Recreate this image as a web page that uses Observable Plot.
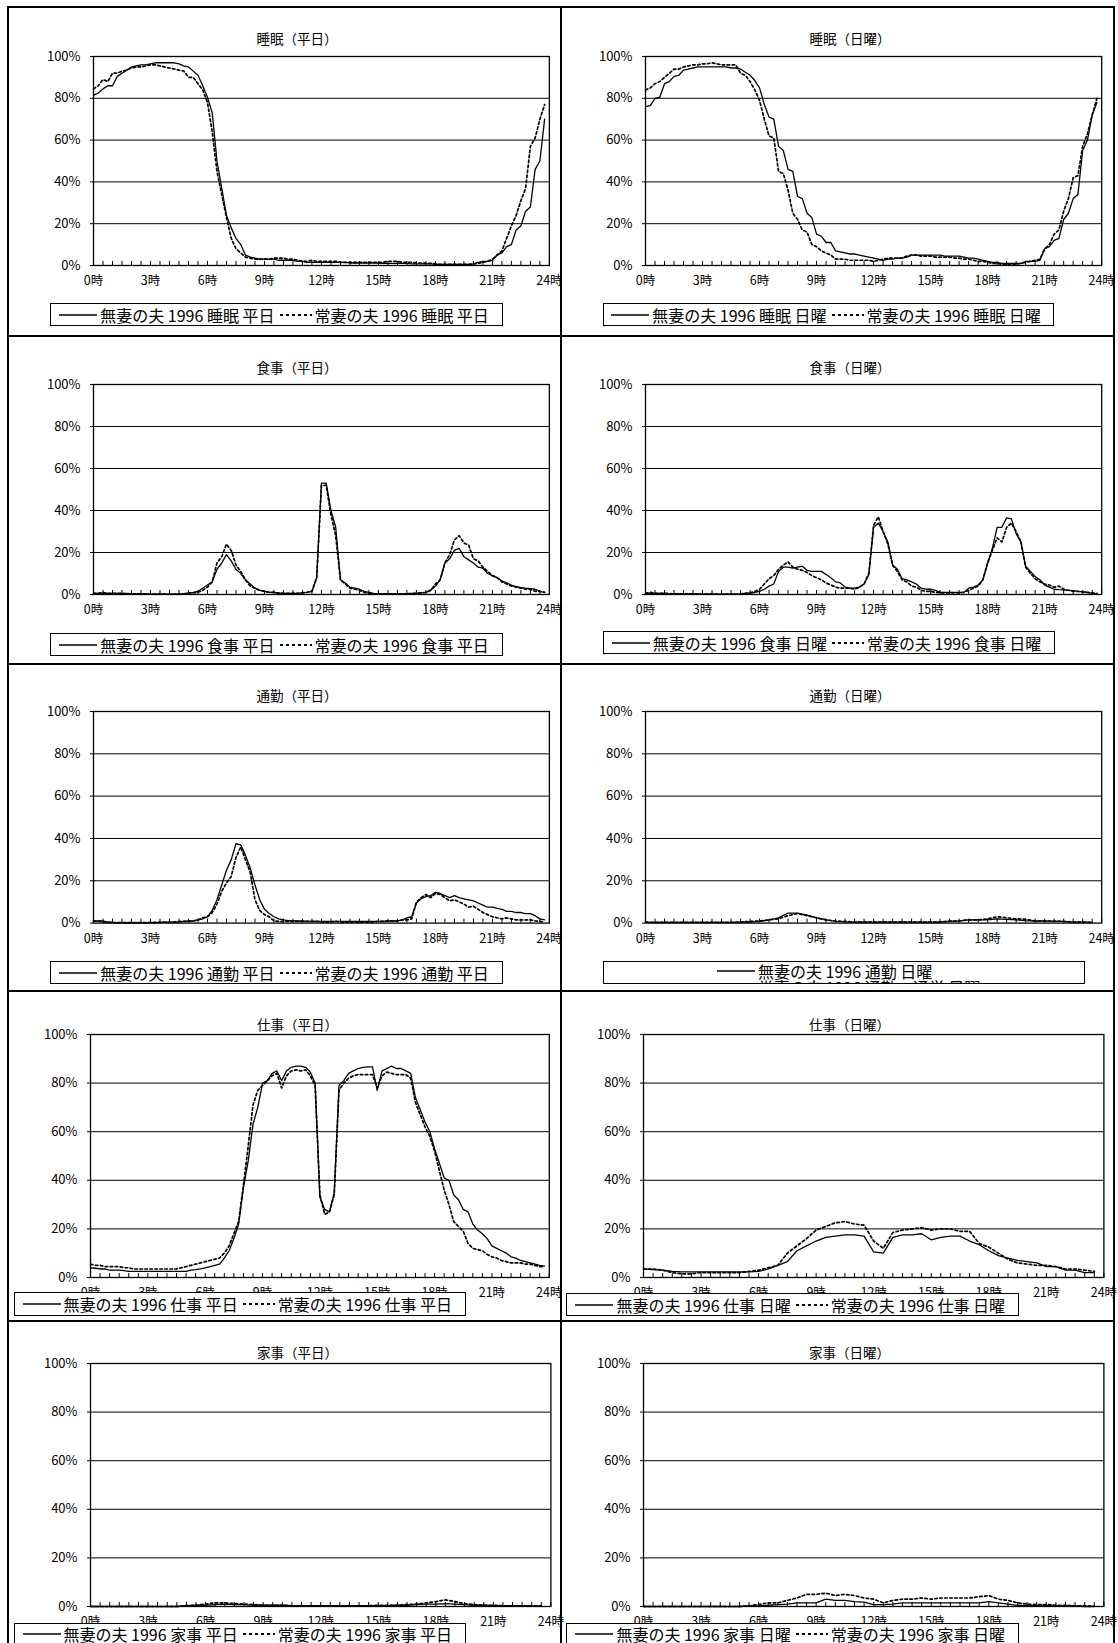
<!DOCTYPE html>
<html><head><meta charset="utf-8">
<script src="https://cdn.jsdelivr.net/npm/d3@7"></script>
<script src="https://cdn.jsdelivr.net/npm/@observablehq/plot@0.6"></script>
<style>
body{margin:0;background:#fff;}
#page{position:relative;width:1118px;height:1643px;overflow:hidden;background:#fff;font-family:"Noto Sans CJK JP","Noto Sans",sans-serif;color:#000;}
.title{position:absolute;font-size:13.5px;transform:translate(-50%,-50%);white-space:nowrap;line-height:1;}
.legend{position:absolute;border:1px solid #000;background:#fff;box-sizing:border-box;display:flex;align-items:center;justify-content:center;font-size:16px;white-space:nowrap;overflow:hidden;line-height:1;}
.legend svg{flex:none;}
.legend span{margin:0 5px 0 3px;}
.rule{position:absolute;background:#000;}
</style></head><body><div id="page"></div>
<script>
// ---- axis ticks / labels ----
const hourTicks = [0,3,6,9,12,15,18,21,24];
const pctTicks = [0,20,40,60,80,100];
const gridPct = [20,40,60,80];
const halfHourTicks = d3.range(0, 24.001, 0.5);

// ---- data: 15-minute steps (96 values) ----
const sleepWdNoWife = [81.5,82.5,84.5,86, 86,90.5,92,93.5, 95,95.5,96,96,
 96.5,97,97,97, 97,97,96.5,95.5, 95,93,91,86,
 80.5,73,50,37, 24,18,13,10, 5,4,3.5,3,
 3,3,3,2.5, 2.5,2.5,2.5,2, 2,1.5,1.5,1.5,
 1.5,1.5,1.5,1.5, 1.5,1.5,1.2,1.2, 1.2,1.2,1.2,1.2,
 1.2,1,1,1, 1,1,1,0.8, 0.8,0.8,0.8,0.8,
 0.5,0.5,0.5,0.5, 0.5,0.5,0.5,0.5, 0.8,1.5,2,2,
 2.5,5,6,9, 10,17,19,26, 28,46,50,70];
const sleepWdWife = [84.5,86,89,88, 92,92,93,93.5, 94.5,95,95,95.5,
 96,96,95.5,95, 94.5,94,93.5,93, 90,90,87,84,
 78,64,45,34, 23,13,8,6, 4,3.5,3,3,
 3,3,3.5,3.5, 3.5,3,3,2.5, 2,2,2.5,2,
 2,2,2,2, 1.5,1.5,1.5,1.5, 1.5,1.5,1.5,1.5,
 1.5,1.5,2,2, 2,1.5,1.5,1.5, 1.2,1.2,1,1,
 0.8,0.5,0.5,0.5, 0.5,0.5,0.5,0.5, 0.8,1,1.5,2,
 3,5,7,13, 19,24,31,37, 57,61,70,77];
const sleepSunNoWife = [76,76.5,80,80.5, 87,88,90.5,91, 93.5,94,94.5,95,
 95,95,95,95, 95,95,94.5,94.5, 94,92.5,91,88.5,
 85,77,71,70, 57,55,46,45, 33,32,25,23,
 15,14,11,11, 7,6.5,6,5.5, 5.5,5,4.5,4,
 3.5,3,2.5,3, 3,3.5,3.5,4, 5,5,5,5,
 5,5,5,4.5, 4.5,4.5,4.5,4, 3.5,3.5,3,2.5,
 2,1.5,1.5,1, 1,1,1,1, 2,2,2,2.5,
 8,9,12,13, 22,25,32,34, 55,60,72,78];
const sleepSunWife = [84,85,87,88, 90,92,94,94, 95,95.5,96,96,
 96.5,96.5,97,96.5, 96,96,96,96, 92,91,88,84,
 79,70,62,61, 45,44,36,25, 22,17,16,10,
 9,7,6,5, 3,3,3,2.5, 2.5,2.5,2.5,2.5,
 2,2.5,3,3.5, 3.5,3.5,3.5,4.5, 5,5,4.5,4.5,
 4.5,4,4,4, 4,3.5,3.5,3, 3,2.5,2,2,
 1.5,1,1,0.5, 0.5,0.5,0.5,1, 1.5,2,2.5,3,
 8,10,15,17, 26,32,42,43, 57,63,72,80];
const mealWdNoWife = [0.5,0.5,0.5,0.5, 0.5,0.5,0.5,0.5, 0.3,0.3,0.3,0.3,
 0.2,0.2,0.2,0.2, 0.2,0.2,0.3,0.3, 0.8,1,1.5,3,
 4.5,6,12,15, 19,16,12,10, 7,5,3,2,
 1.5,1,1,0.8, 0.5,0.5,0.5,0.5, 0.8,1,1.5,8,
 53,53,40,32, 7,5.5,3.5,3, 2.5,1.5,1,0.5,
 0.3,0.3,0.3,0.3, 0.3,0.3,0.3,0.5, 0.5,0.8,1,2,
 4,7,15,17, 21,22,18,16.5, 15,13,12.5,10,
 9,8,6.5,5.5, 4.5,3.8,3.3,3, 2.8,2.5,1.5,1];
const mealWdWife = [0.5,0.5,1,0.5, 0.5,0.5,0.5,0.3, 0.3,0.3,0.3,0.3,
 0.2,0.2,0.2,0.2, 0.2,0.2,0.2,0.3, 0.5,0.8,1,2,
 3.5,6,15,18, 24,21,14,11, 7,4,3,2,
 1.5,1,1,0.5, 0.5,0.5,0.5,0.5, 0.8,1,1.5,8,
 52,52,38,28, 7,5,3,2.5, 2,1,0.5,0.3,
 0.3,0.3,0.3,0.3, 0.3,0.3,0.3,0.5, 0.5,0.8,1,2,
 5,7,15,19, 26,28,24.5,23.5, 17,16,13,11,
 9,8,6,5, 4,3.5,3,2.5, 2.5,1.5,1.5,1];
const mealSunNoWife = [0.5,0.5,0.5,0.5, 0.5,0.3,0.3,0.3, 0.3,0.3,0.3,0.3,
 0.2,0.2,0.2,0.2, 0.2,0.2,0.2,0.2, 0.3,0.5,0.5,1,
 1.5,2.5,4,5, 11,13,13,12.5, 13,13.5,11.5,11,
 11,11,9.5,8, 6,5.5,3.5,3, 3,3.5,5,9.5,
 32,34,30,25, 14,12,7.5,7, 6,5,3,2.5,
 2.5,2,1,1, 1,1,1,1, 3,3.5,4.5,7,
 15,22,32,32, 36.5,36,29,25, 13.5,11,8.5,7,
 4.5,3.5,2.5,2.3, 2.2,2,1.8,1.5, 1.3,1,0.5,0.3];
const mealSunWife = [0.5,1,0.5,0.5, 0.5,0.5,0.3,0.3, 0.3,0.3,0.3,0.3,
 0.2,0.2,0.2,0.2, 0.2,0.2,0.2,0.2, 0.3,0.5,0.8,1.5,
 2.5,5,7.5,9, 12,14,15.5,13, 12,11.5,10.5,9,
 8,7,5.5,4.5, 3.5,3,3,3, 2.5,3.5,5,10,
 33,37,30,24, 14,11,7,6, 4,3.5,2,1.5,
 1.5,1,0.8,0.8, 0.8,0.8,0.8,1, 2,3,4,7,
 15,21,27,25, 32,34,30,25, 13,10,7.5,6,
 5,4.5,3.5,4, 2.5,2,1.5,1.5, 1.2,1,0.8,0.5];
const commuteWdNoWife = [1,1,1,0.5, 0.3,0.2,0.2,0.2, 0.2,0.2,0.2,0.2,
 0.2,0.2,0.3,0.3, 0.5,0.5,0.5,0.8, 1,1,1.5,2,
 3,6,11,18, 25,30,37.5,37, 32,26,18,11,
 6.5,4.5,3,2, 1.5,1.2,1.2,1, 1,0.8,0.8,0.8,
 0.8,0.8,0.8,0.8, 0.8,0.8,0.8,0.8, 0.8,0.8,0.8,0.8,
 0.8,0.8,1,1, 1,1.5,2.5,3, 9.5,11.5,12.5,13,
 14.5,14,13,12, 13,12,11.5,11, 10.5,9.5,8.5,7.5,
 7.5,7,6.5,5.5, 5.5,5,5,4.5, 4.5,3.5,2,1.5];
const commuteWdWife = [1,1,0.5,0.5, 0.2,0.2,0.2,0.2, 0.2,0.2,0.2,0.2,
 0.3,0.3,0.3,0.5, 0.5,0.5,0.8,0.8, 0.8,1,1.5,2.5,
 3,5,9,15, 19,22,31,36, 30,24,11,6,
 4,3,1,0.8, 0.8,0.8,0.8,0.8, 0.8,0.8,0.8,0.8,
 0.5,0.5,0.5,0.8, 0.5,0.5,0.5,0.5, 0.5,0.5,0.5,0.5,
 0.8,0.8,1,1, 1,1.5,1.5,2, 10,12,13.5,12,
 14,13.5,12,10.5, 11,10,9,7.5, 8,6.5,5,4,
 3,2.5,2,2.5, 2,1.5,1.5,1.5, 1.5,1,0.8,0.5];
const workWdNoWife = [4,3.8,3.5,3.5, 3,3,3,2.8, 2.5,2.5,2.5,2.5,
 2.5,2.5,2.5,2.5, 2.5,2.5,2.5,2.5, 2.5,3,3.2,3.5,
 4,4.5,5,5.5, 8,11,16,22, 37,48,63,70,
 80,81,84,85, 81,85,86.5,87, 87,86.5,84.5,80,
 33,28,27,35, 79,81,84,85, 86,86.5,86.7,86.7,
 77,85,86,87, 86,86,85,84, 74,69,64,60,
 53,47,41,40, 34,32,28,27, 22,19.5,18,16,
 13,12,11,10, 8.5,8,7,6.5, 6,5.5,5,4.7];
const workWdWife = [5.5,5,5,4.5, 4.5,4.5,4.5,4, 4,3.5,3.5,3.5,
 3.5,3.5,3.5,3.5, 3.5,3.5,3.5,4, 4.5,5,5.5,6,
 6.5,7,7.5,8, 10,13,18,23, 38,54,71,77,
 79,81,83,84, 78,83,85,85.5, 85,85.5,83,79,
 34,26,27,34, 77,80,82,83, 83.5,83.5,83.5,83.5,
 78,83,84.5,84, 83.5,83.5,83.5,82, 72,67,62,58,
 52,44,36,30, 23,21,19,14, 12,11.5,11,9.5,
 8.5,8,7,6.5, 6,6,6,5.5, 5.5,5,4.5,4.5];

// ---- data: 30-minute steps (48 values) ----
const commuteSunNoWife = [0.3,0.3,0.3,0.3,0.3,0.3,0.3,0.3,0.3,0.3,0.5,0.5,
 0.8,1.5,2.5,4.7,4.7,3.8,2.5,1.5,0.8,0.6,0.5,0.5,
 0.5,0.5,0.5,0.5,0.5,0.5,0.5,0.5,0.8,1,1.5,1.5,
 1.5,2,1.8,1.5,1.2,1,1,0.8,0.8,0.5,0.5,0.3];
const commuteSunWife = [0.5,0.3,0.3,0.3,0.3,0.3,0.3,0.3,0.3,0.3,0.5,0.8,
 1,1.5,2,3.5,4.5,3.5,2.5,1.5,1,0.8,0.5,0.5,
 0.5,0.5,0.5,0.5,0.5,0.5,0.5,0.5,1,1,1.5,1.5,
 2,3,2.5,2,1.8,1,1,1,0.8,0.5,0.5,0.3];
const workSunNoWife = [3.5,3.2,3,2.5,2.3,2.3,2.3,2.3,2.3,2.3,2.3,2.3,
 2.5,3.5,5,6.5,11,13,15,16.5,17,17.5,17.5,17,
 10.5,10,16.5,17.5,17.5,18,15.5,16.5,17,17,15,13.5,
 11,9,8,7,6.5,6,4.5,4.5,3,3,2,2];
const workSunWife = [3.5,3.5,3,2,1.5,1.5,2,2,2,2,2,2.5,
 3,4,5,10,13,16,19.5,21,22.5,23,22,21.5,
 15,12,18.5,19.5,20,20.5,19.5,20,20,19,19,14,
 12.5,10,7.5,6,5.5,5,5,4.5,3.5,3.5,3,2.5];
const houseWdNoWife = [0,0,0,0,0,0,0,0,0,0,0.3,0.5,
 0.5,0.8,1,0.8,0.8,0.5,0.5,0.5,0.5,0.3,0.3,0.3,
 0.3,0.3,0.3,0.3,0.3,0.3,0.3,0.3,0.5,0.5,0.8,1,
 1,1.2,1,0.8,0.5,0.5,0.3,0.3,0.3,0.3,0.2,0.2];
const houseWdWife = [0,0,0,0,0,0,0,0,0,0,0.3,0.5,
 1,1.5,1.5,1.2,1,0.8,0.5,0.5,0.5,0.3,0.3,0.3,
 0.3,0.3,0.3,0.3,0.3,0.3,0.5,0.5,0.5,0.8,1,1.5,
 2,2.7,2,1.2,0.8,0.5,0.5,0.3,0.3,0.3,0.2,0.2];
const houseSunNoWife = [0,0,0,0,0,0,0,0,0,0,0,0.2,
 0.3,0.5,0.8,1,1.5,1.5,1.5,3,2.5,2.5,2,1.8,
 0.8,0.8,1,1.5,1.5,1.5,1.5,1.5,1.5,1.5,1.5,1.5,
 2,1.5,1,0.5,0.3,0.3,0.3,0.3,0.2,0.2,0,0];
const houseSunWife = [0,0,0,0,0,0,0,0,0,0,0,0.3,
 0.8,1.5,1.5,2.5,3.5,5,5,5.5,4.5,5,4.5,3.5,
 3,1.5,2.5,3,3,3.5,3,3.5,3.5,3.5,3.5,4,
 4.5,3,2.5,1.5,1,0.8,0.8,0.5,0.5,0.3,0.2,0.2];

const FONT = '"Noto Sans CJK JP","Noto Sans",sans-serif';

const panels = [
 {title:"睡眠（平日）", a:sleepWdNoWife, b:sleepWdWife, step:0.25, tx:297, ty:39, L:92.5, R:548.4, T:56, B:265, lg:[50,303,453,23], la:"無妻の夫 1996 睡眠 平日", lb:"常妻の夫 1996 睡眠 平日"},
 {title:"睡眠（日曜）", a:sleepSunNoWife, b:sleepSunWife, step:0.25, tx:850, ty:39, L:645.4, R:1101.6, T:56, B:265, lg:[603,303,451,23], la:"無妻の夫 1996 睡眠 日曜", lb:"常妻の夫 1996 睡眠 日曜"},
 {title:"食事（平日）", a:mealWdNoWife, b:mealWdWife, step:0.25, tx:297, ty:368, L:92.5, R:548.4, T:384.3, B:594.3, lg:[50,633,453,23], la:"無妻の夫 1996 食事 平日", lb:"常妻の夫 1996 食事 平日"},
 {title:"食事（日曜）", a:mealSunNoWife, b:mealSunWife, step:0.25, tx:850, ty:368, L:645.4, R:1101.6, T:383.5, B:593.5, lg:[603,631,452,23], la:"無妻の夫 1996 食事 日曜", lb:"常妻の夫 1996 食事 日曜"},
 {title:"通勤（平日）", a:commuteWdNoWife, b:commuteWdWife, step:0.25, tx:297, ty:696, L:92.5, R:548.4, T:710.7, B:922.3, lg:[50,961,453,23], la:"無妻の夫 1996 通勤 平日", lb:"常妻の夫 1996 通勤 平日"},
 {title:"通勤（日曜）", a:commuteSunNoWife, b:commuteSunWife, step:0.5, tx:850, ty:696, L:645.4, R:1101.6, T:710.7, B:922.3, lg:[603,961,482,23], la:"無妻の夫 1996 通勤 日曜", lb:"常妻の夫 1996 通勤・通学 日曜", twoLine:true},
 {title:"仕事（平日）", a:workWdNoWife, b:workWdWife, step:0.25, tx:297.5, ty:1025, L:89.6, R:548.4, T:1034.3, B:1277.3, lg:[13.6,1292.3,452.4,23.7], la:"無妻の夫 1996 仕事 平日", lb:"常妻の夫 1996 仕事 平日"},
 {title:"仕事（日曜）", a:workSunNoWife, b:workSunWife, step:0.5, tx:849.5, ty:1025, L:643, R:1103.4, T:1034.3, B:1277.3, lg:[566.4,1293,452.6,23], la:"無妻の夫 1996 仕事 日曜", lb:"常妻の夫 1996 仕事 日曜"},
 {title:"家事（平日）", a:houseWdNoWife, b:houseWdWife, step:0.5, tx:297.5, ty:1353, L:89.6, R:550, T:1363, B:1606, lg:[13.6,1622.7,452.4,23], la:"無妻の夫 1996 家事 平日", lb:"常妻の夫 1996 家事 平日"},
 {title:"家事（日曜）", a:houseSunNoWife, b:houseSunWife, step:0.5, tx:849.5, ty:1353, L:643, R:1103.4, T:1363, B:1606, lg:[566.4,1622.7,452.6,23], la:"無妻の夫 1996 家事 日曜", lb:"常妻の夫 1996 家事 日曜"}
];

const page = document.getElementById("page");

function rule(l,t,w,h){
  const d = document.createElement("div"); d.className = "rule";
  Object.assign(d.style,{left:l+"px",top:t+"px",width:w+"px",height:h+"px"});
  page.append(d);
}

function sample(dashed, len){
  const ns = "http://www.w3.org/2000/svg";
  const s = document.createElementNS(ns,"svg");
  s.setAttribute("width", len); s.setAttribute("height", 10);
  const l = document.createElementNS(ns,"line");
  l.setAttribute("x1",0); l.setAttribute("x2",len); l.setAttribute("y1",5); l.setAttribute("y2",5);
  l.setAttribute("stroke","#000"); l.setAttribute("stroke-width", dashed ? 2 : 1.3);
  if (dashed) l.setAttribute("stroke-dasharray","3,3");
  s.append(l); return s;
}

function render(p){
  const mL = 50, mR = 26, mT = 6, mB = 30;
  const w = p.R - p.L, h = p.B - p.T;
  const rows = arr => arr.map((v,i) => ({t: i*p.step, v}));
  const chart = Plot.plot({
    width: w + mL + mR, height: h + mT + mB,
    marginLeft: mL, marginRight: mR, marginTop: mT, marginBottom: mB,
    style: {fontFamily: FONT, fontSize: "13px", background: "transparent", color: "#000", overflow: "visible"},
    x: {domain: [0,24], label: null},
    y: {domain: [0,100], label: null},
    marks: [
      Plot.ruleY(gridPct, {stroke: "#000", strokeWidth: 1}),
      Plot.tickX(halfHourTicks, {x: d => d, stroke: "#000", strokeWidth: 1, insetTop: h - 4}),
      Plot.axisX(hourTicks, {tickSize: 0, tickPadding: 11, tickFormat: d => d + "時", label: null, fontSize: 12.5}),
      Plot.axisY(pctTicks, {tickSize: 3, tickPadding: 10, tickFormat: d => d + "%", label: null, fontSize: 13}),
      Plot.line(rows(p.b), {x: "t", y: "v", stroke: "#000", strokeWidth: 1.7, strokeDasharray: "2.5,2.5"}),
      Plot.line(rows(p.a), {x: "t", y: "v", stroke: "#000", strokeWidth: 1.3}),
      Plot.frame({stroke: "#000", strokeWidth: 1.3})
    ]
  });
  chart.style.position = "absolute";
  chart.style.left = (p.L - mL) + "px";
  chart.style.top = (p.T - mT) + "px";
  page.append(chart);

  const t = document.createElement("div");
  t.className = "title"; t.textContent = p.title;
  t.style.left = p.tx + "px"; t.style.top = p.ty + "px";
  page.append(t);

  const [ll, lt, lw, lh] = p.lg;
  const lgd = document.createElement("div");
  lgd.className = "legend";
  Object.assign(lgd.style, {left: ll+"px", top: lt+"px", width: lw+"px", height: lh+"px"});
  if (p.twoLine) {
    lgd.style.flexDirection = "column";
    lgd.style.alignItems = "flex-start";
    lgd.style.justifyContent = "flex-start";
    lgd.style.paddingLeft = "113px";
    lgd.style.paddingTop = "1px";
    for (const [dashed, label] of [[false, p.la],[true, p.lb]]) {
      const row = document.createElement("div");
      row.style.display = "flex"; row.style.alignItems = "center"; row.style.height = "16px"; row.style.flex = "none";
      row.append(sample(dashed, 38));
      const sp = document.createElement("span"); sp.textContent = label; row.append(sp);
      lgd.append(row);
    }
  } else {
    lgd.append(sample(false, 38));
    const s1 = document.createElement("span"); s1.textContent = p.la; lgd.append(s1);
    lgd.append(sample(true, 32));
    const s2 = document.createElement("span"); s2.textContent = p.lb; lgd.append(s2);
  }
  page.append(lgd);
}

panels.forEach(render);

// cell borders
rule(7, 6, 1108, 2);
rule(7, 334.5, 1108, 2);
rule(7, 662.5, 1108, 2);
rule(7, 990, 1108, 2);
rule(7, 1319.5, 1108, 2);
rule(7, 6, 2, 1640);
rule(560, 6, 2, 1640);
rule(1113, 6, 2, 1640);
</script></body></html>
